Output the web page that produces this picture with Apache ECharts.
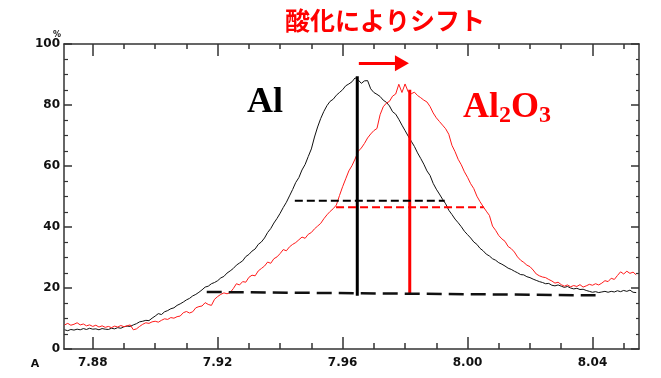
<!DOCTYPE html>
<html>
<head>
<meta charset="utf-8">
<script src="https://cdn.jsdelivr.net/npm/echarts@6/dist/echarts.min.js"></script>
<style>html,body{margin:0;padding:0;background:#fff}#c{width:661px;height:378px}</style>
</head>
<body>
<div id="c"></div>
<script>
// ---- data ----
const xStart = 7.871, xStep = 0.001;
const xMajorTicks = [7.88, 7.92, 7.96, 8.00, 8.04];
const xMinorTicks = [7.87, 7.89, 7.90, 7.91, 7.93, 7.94, 7.95, 7.97, 7.98, 7.99, 8.01, 8.02, 8.03, 8.05];
const alValues = [
  6.3, 6.0, 6.4, 6.2, 6.5, 6.3, 6.7, 6.4, 6.8, 6.5,
  6.6, 6.3, 6.7, 6.5, 6.4, 6.8, 6.6, 7.0, 6.8, 7.3,
  7.5, 7.4, 7.9, 8.3, 8.9, 9.1, 9.4, 9.3, 10.1, 10.8,
  11.6, 11.3, 12.2, 12.6, 13.2, 13.5, 14.3, 14.8, 15.4, 16.1,
  16.6, 17.4, 17.9, 18.6, 19.4, 20.3, 20.6, 21.4, 21.8, 22.4,
  23.3, 23.8, 24.9, 25.6, 26.4, 27.5, 28.2, 28.9, 30.3, 31.0,
  32.1, 32.8, 34.3, 35.1, 36.4, 38.2, 39.5, 41.3, 42.8, 44.5,
  46.4, 48.1, 50.2, 52.3, 54.6, 56.2, 58.7, 60.5, 63.1, 65.6,
  69.5, 72.8, 75.6, 77.9, 79.8, 81.2, 81.9, 83.2, 84.1, 85.0,
  86.3, 86.9, 87.6, 88.9, 88.2, 87.1, 87.9, 88.0, 85.3, 84.1,
  83.5, 82.8, 81.6, 80.9, 79.7, 77.8, 77.0, 75.3, 73.4, 71.6,
  69.8, 68.1, 66.4, 64.3, 62.5, 60.6, 58.4, 56.9, 54.3, 52.4,
  50.8, 49.1, 47.6, 45.5, 44.1, 42.6, 41.4, 40.1, 38.6, 37.5,
  36.4, 35.1, 34.3, 33.0, 32.2, 31.1, 30.5, 29.6, 29.1, 28.3,
  27.8, 27.2, 26.5, 26.1, 25.5, 25.0, 24.4, 24.3, 23.7, 23.4,
  22.9, 22.5, 22.1, 21.8, 21.4, 21.5, 20.9, 20.7, 21.0, 20.6,
  20.2, 20.5, 20.0, 19.7, 19.9, 19.5, 19.6, 19.2, 18.9, 18.6,
  18.8, 18.5, 18.7, 18.9, 18.6, 18.9, 18.7, 19.1, 18.8, 19.2,
  18.9, 19.3, 18.6, 18.5
];
const al2o3Values = [
  7.9, 8.4, 7.8, 8.1, 8.6, 7.9, 8.2, 7.6, 7.9, 7.4,
  7.8, 7.2, 7.6, 7.1, 7.4, 7.0, 7.5, 7.2, 7.7, 7.3,
  7.6, 7.9, 6.3, 6.6, 7.4, 8.1, 8.6, 8.4, 8.9, 9.1,
  8.8, 9.4, 9.9, 9.7, 10.3, 10.1, 10.6, 10.8, 11.9, 12.3,
  11.8, 12.2, 13.5, 13.9, 14.1, 15.2, 14.6, 14.3, 16.3, 17.2,
  17.9, 18.4, 18.1, 18.5, 19.8, 21.4, 21.0, 22.1, 21.9, 23.5,
  24.2, 24.0, 25.6, 26.4, 27.2, 28.5, 28.1, 29.6, 30.2, 31.3,
  32.6, 32.2, 33.5, 34.3, 34.9, 35.8, 36.7, 36.3, 37.6, 38.2,
  39.4, 40.3, 41.2, 42.7, 44.0, 45.1, 46.0, 47.2, 50.3, 53.2,
  55.8, 58.4, 60.1, 62.3, 64.8, 65.9, 67.4, 69.2, 70.5, 71.6,
  72.3, 76.8, 79.4, 80.6, 81.2, 82.9, 83.6, 86.8, 84.1, 86.9,
  84.3, 83.7, 84.2, 83.1, 82.4, 81.6, 81.0, 79.5, 77.4, 75.8,
  74.6, 73.4, 72.2, 70.4, 66.8, 64.7, 62.2, 60.4, 58.1, 56.3,
  54.2, 52.6, 50.1, 48.3, 46.7, 45.2, 43.8, 40.3, 38.9, 37.2,
  36.1, 35.3, 33.6, 32.9, 31.8, 30.2, 29.1, 28.4, 27.5, 27.0,
  25.9, 24.6, 24.0, 23.6, 23.4, 22.8, 22.3, 21.6, 21.9, 21.1,
  20.6, 21.0, 20.4, 20.8, 20.5, 21.1, 20.3, 20.7, 21.2, 20.9,
  21.4, 21.0, 21.6, 22.4, 22.1, 23.2, 22.8, 24.1, 25.3, 24.6,
  25.5, 24.8, 25.2, 24.3
];
const alPeakLine = [[7.9647, 89.4], [7.9647, 17.5]];
const al2o3PeakLine = [[7.9815, 85.0], [7.9815, 18.1]];
const baseLine = [[7.9165, 18.7], [8.041, 17.6]];
const alHalfLine = [[7.9447, 48.6], [7.9927, 48.6]];
const al2o3HalfLine = [[7.9579, 46.5], [8.0052, 46.5]];
const shiftArrow = [[7.9652, 93.7], [7.9790, 93.7]];
const titleText = '酸化によりシフト';
const xMin = 7.8708, xMax = 8.0549;

// ---- chart ----
const pair = vals => vals.map((v, i) => [+(xStart + i * xStep).toFixed(3), v]);
const AX = '#333';
const lblFont = { fontFamily: 'DejaVu Sans', fontWeight: 'bold', fontSize: 12, color: '#111' };
function xAx(pos, ticks, len, showLine, showLabel) {
  return {
    type: 'value', position: pos, min: xMin, max: xMax,
    axisLine: { show: showLine, lineStyle: { color: AX, width: 1.5 } },
    axisTick: { show: true, inside: true, length: len, customValues: ticks, lineStyle: { color: AX, width: 1.5 } },
    axisLabel: showLabel ? Object.assign({ show: true, margin: 8, customValues: ticks, formatter: v => v.toFixed(2) }, lblFont) : { show: false },
    splitLine: { show: false }
  };
}
function yAx(pos, len, mlen, showLabel) {
  return {
    type: 'value', position: pos, min: 0, max: 100, interval: 20,
    axisLine: { show: true, lineStyle: { color: AX, width: 1.5 } },
    axisTick: { show: true, inside: true, length: len, lineStyle: { color: AX, width: 1.5 } },
    minorTick: { show: true, splitNumber: 4, length: mlen, lineStyle: { color: AX, width: 1.2 } },
    axisLabel: showLabel ? Object.assign({ show: true, margin: 4 }, lblFont) : { show: false },
    splitLine: { show: false }, minorSplitLine: { show: false }
  };
}
function guide(data, color, width, type) {
  return { type: 'line', data: data, symbol: 'none', silent: true, z: 5,
    lineStyle: { color: color, width: width, type: type } };
}
const chart = echarts.init(document.getElementById('c'), null, { renderer: 'canvas' });
chart.setOption({
  animation: false,
  backgroundColor: '#fff',
  grid: { left: 64, top: 44, width: 575, height: 305, containLabel: false },
  xAxis: [
    xAx('bottom', xMajorTicks, 12, true, true),
    xAx('bottom', xMinorTicks, 6, false, false),
    xAx('top', xMajorTicks, 12, true, false),
    xAx('top', xMinorTicks, 5, false, false)
  ],
  yAxis: [yAx('left', 8, 4, true), yAx('right', 8, 3, false)],
  series: [
    { type: 'line', data: pair(alValues), symbol: 'none', lineStyle: { color: '#111', width: 1 }, z: 3 },
    { type: 'line', data: pair(al2o3Values), symbol: 'none', lineStyle: { color: '#ff1a1a', width: 1 }, z: 4 },
    guide(alPeakLine, '#000', 3, 'solid'),
    guide(al2o3PeakLine, '#ff0000', 3, 'solid'),
    guide(baseLine, '#111', 2.5, [15, 7]),
    guide(alHalfLine, '#000', 2, [8, 4]),
    guide(al2o3HalfLine, '#ff0000', 2, [8, 4]),
    {
      type: 'line', data: [], symbol: 'none', silent: true,
      markLine: {
        silent: true, animation: false, symbol: ['none', 'triangle'], symbolSize: [16, 14],
        label: { show: false },
        lineStyle: { color: '#ff0000', width: 3, type: 'solid' },
        data: [[{ coord: shiftArrow[0] }, { coord: shiftArrow[1] }]]
      }
    }
  ],
  graphic: [
    { type: 'text', left: null, x: 385, y: 20, style: { text: titleText, fill: '#ff0000', font: 'bold 25px "Noto Sans CJK JP"', textAlign: 'center', textVerticalAlign: 'middle' } },
    { type: 'text', x: 57, y: 35, style: { text: '%', fill: '#111', font: 'bold 8px "DejaVu Sans"', textAlign: 'center', textVerticalAlign: 'middle' } },
    { type: 'text', x: 35, y: 364, style: { text: 'A', fill: '#111', font: 'bold 11px "DejaVu Sans"', textAlign: 'center', textVerticalAlign: 'middle' } },
    { type: 'text', x: 247, y: 103, style: { text: 'Al', fill: '#000', font: 'bold 36px "Liberation Serif"', textAlign: 'left', textVerticalAlign: 'middle' } },
    { type: 'text', x: 463, y: 108, style: { text: 'Al', fill: '#ff0000', font: 'bold 36px "Liberation Serif"', textAlign: 'left', textVerticalAlign: 'middle' } },
    { type: 'text', x: 499, y: 116, style: { text: '2', fill: '#ff0000', font: 'bold 24px "Liberation Serif"', textAlign: 'left', textVerticalAlign: 'middle' } },
    { type: 'text', x: 511, y: 108, style: { text: 'O', fill: '#ff0000', font: 'bold 36px "Liberation Serif"', textAlign: 'left', textVerticalAlign: 'middle' } },
    { type: 'text', x: 539, y: 116, style: { text: '3', fill: '#ff0000', font: 'bold 24px "Liberation Serif"', textAlign: 'left', textVerticalAlign: 'middle' } }
  ]
});
</script>
</body>
</html>
